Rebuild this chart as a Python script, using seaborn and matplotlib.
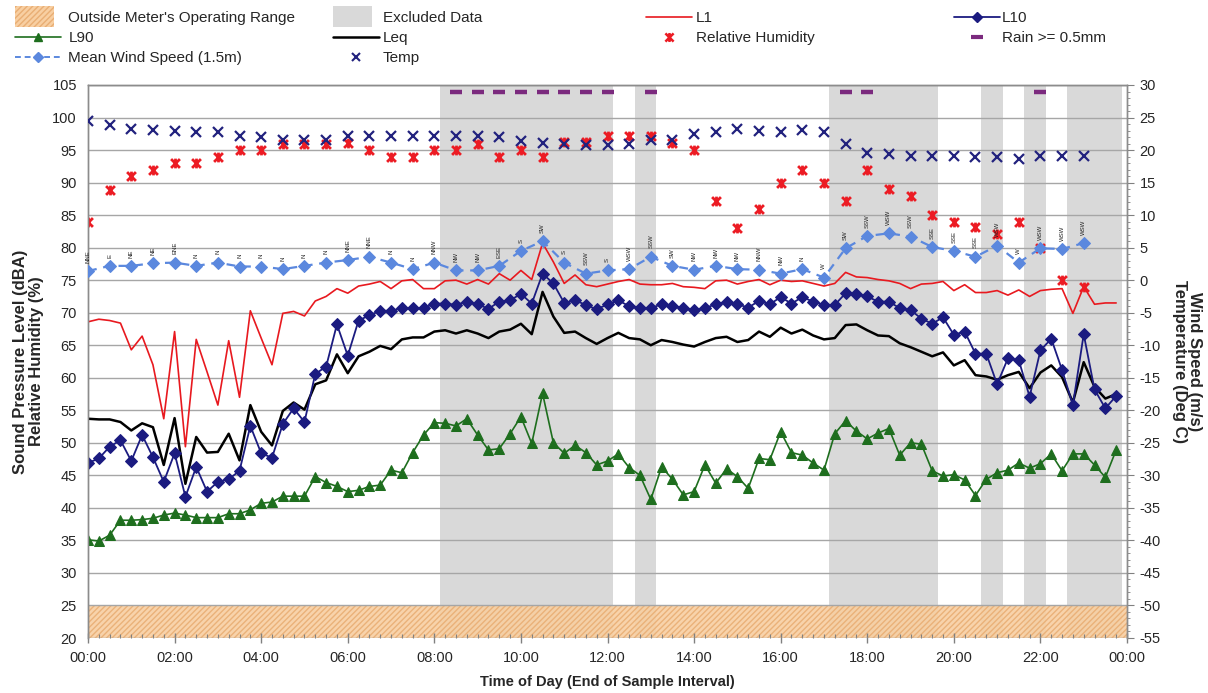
import numpy as np
import matplotlib
matplotlib.use("Agg")
import matplotlib.pyplot as plt
from matplotlib.lines import Line2D
from matplotlib.patches import Patch, Rectangle
from matplotlib.path import Path
from matplotlib.legend_handler import HandlerPatch
from matplotlib.ticker import MultipleLocator
import seaborn as sns

# ---- noise levels, 15-minute samples (time of day in hours) ----
noise_hours = np.arange(96) * 0.25

L1 = [68.6, 69.0, 68.8, 68.4, 64.3, 66.4, 62.0, 53.7, 67.1, 49.4, 65.9, 60.9, 55.8, 65.7, 57.0, 70.3,
      66.1, 62.0, 69.9, 70.2, 69.5, 71.8, 72.5, 73.7, 73.0, 74.1, 74.4, 74.8, 73.7, 74.9, 75.1, 73.7,
      73.7, 74.9, 75.0, 74.4, 75.1, 74.4, 76.0, 75.0, 76.5, 75.1, 80.7, 77.8, 74.5, 75.8, 74.3, 74.0,
      74.4, 74.8, 75.1, 74.4, 74.3, 74.3, 74.5, 74.0, 73.9, 73.7, 74.9, 75.0, 74.4, 74.8, 75.1, 74.3,
      75.0, 74.8, 74.9, 74.5, 74.1, 74.5, 76.2, 75.5, 75.4, 75.1, 74.9, 74.5, 73.7, 74.4, 74.5, 74.8,
      73.4, 74.3, 73.1, 73.1, 73.4, 72.7, 73.5, 72.5, 73.4, 73.6, 73.7, 69.9, 74.0, 71.3, 71.5, 71.5]

L10 = [46.9, 47.6, 49.4, 50.4, 47.2, 51.2, 47.8, 44.0, 48.4, 41.7, 46.3, 42.5, 44.0, 44.4, 45.7, 52.6,
       48.4, 47.7, 52.9, 55.3, 53.2, 60.6, 61.7, 68.2, 63.4, 68.8, 69.6, 70.3, 70.3, 70.7, 70.7, 70.7,
       71.4, 71.4, 71.2, 71.7, 71.3, 70.6, 71.7, 71.9, 72.9, 71.4, 76.0, 74.5, 71.5, 71.9, 71.2, 70.5,
       71.3, 71.9, 71.0, 70.8, 70.7, 71.3, 71.0, 70.8, 70.4, 70.7, 71.3, 71.7, 71.3, 70.8, 71.8, 71.3,
       72.4, 71.4, 72.4, 71.7, 71.2, 71.2, 73.0, 72.9, 72.5, 71.7, 71.7, 70.7, 70.4, 69.1, 68.3, 69.3,
       66.6, 67.1, 63.7, 63.7, 59.0, 63.0, 62.7, 57.1, 64.2, 66.0, 61.2, 55.8, 66.7, 58.2, 55.3, 57.2]

LEQ = [53.7, 53.6, 53.6, 53.2, 51.9, 53.0, 52.4, 46.6, 53.8, 43.7, 50.9, 48.5, 48.6, 51.4, 47.3, 55.8,
       51.7, 49.6, 54.9, 56.2, 55.1, 59.0, 59.6, 63.6, 60.7, 63.3, 64.0, 64.9, 64.4, 65.9, 66.2, 66.2,
       67.1, 67.3, 66.8, 67.3, 66.8, 66.1, 67.1, 67.4, 68.3, 66.7, 73.2, 69.4, 66.9, 67.1, 66.1, 65.2,
       66.1, 66.9, 66.1, 65.9, 65.0, 65.8, 65.5, 65.1, 64.8, 65.5, 66.1, 66.3, 65.5, 65.8, 67.1, 66.3,
       67.7, 66.8, 67.4, 66.5, 65.9, 66.1, 68.1, 68.2, 67.3, 66.5, 66.4, 65.3, 64.7, 64.0, 63.3, 63.9,
       61.9, 62.7, 60.4, 60.2, 59.7, 60.4, 60.9, 58.4, 60.8, 61.9, 60.1, 56.2, 62.4, 58.6, 56.8, 57.5]

L90 = [35.1, 34.9, 35.8, 38.1, 38.1, 38.2, 38.4, 38.9, 39.2, 38.9, 38.5, 38.5, 38.5, 39.1, 39.1, 39.7,
       40.7, 40.9, 41.8, 41.8, 41.8, 44.8, 43.9, 43.3, 42.5, 42.7, 43.3, 43.5, 45.8, 45.4, 48.5, 51.2,
       53.1, 53.0, 52.6, 53.7, 51.2, 48.9, 49.1, 51.4, 54.0, 49.9, 57.6, 50.0, 48.4, 49.6, 48.5, 46.6,
       47.2, 48.3, 46.2, 45.0, 41.3, 46.3, 44.4, 42.0, 42.5, 46.6, 43.8, 46.0, 44.8, 43.0, 47.6, 47.4,
       51.7, 48.5, 48.1, 46.9, 45.8, 51.4, 53.4, 51.8, 50.6, 51.5, 52.2, 48.1, 50.0, 49.8, 45.7, 44.9,
       45.1, 44.3, 41.9, 44.4, 45.4, 45.8, 46.9, 46.1, 46.8, 48.3, 45.7, 48.3, 48.3, 46.6, 44.7, 48.9]

# ---- weather, 30-minute samples ----
weather_hours = np.arange(47) * 0.5

wind_speed = [1.4, 2.2, 2.2, 2.6, 2.7, 2.2, 2.7, 2.1, 2.1, 1.7, 2.2, 2.7, 3.1, 3.6, 2.7, 1.7, 2.7,
              1.5, 1.5, 2.2, 4.5, 6.0, 2.7, 1.0, 1.5, 1.7, 3.6, 2.2, 1.6, 2.2, 1.7, 1.6, 1.0, 1.7, 0.4,
              4.9, 6.8, 7.2, 6.7, 5.1, 4.5, 3.6, 5.3, 2.7, 4.9, 4.8, 5.7]

wind_dir = ["NNE", "E", "NE", "NE", "ENE", "N", "N", "N", "N", "N", "N", "N", "NNE", "NNE", "N", "N", "NNW",
            "NW", "NW", "ESE", "S", "SW", "S", "SSW", "S", "WSW", "SSW", "SW", "NW", "NW", "NW", "NNW", "NW",
            "N", "W", "SW", "SSW", "WSW", "SSW", "SSE", "SSE", "SSE", "WSW", "W", "WSW", "WSW", "WSW"]

temperature = [24.4, 23.9, 23.3, 23.1, 23.0, 22.8, 22.7, 22.1, 22.0, 21.5, 21.5, 21.5, 22.1, 22.2, 22.2,
               22.2, 22.2, 22.1, 22.1, 22.0, 21.4, 21.1, 21.0, 20.8, 20.8, 21.0, 21.5, 21.5, 22.5, 22.8,
               23.2, 23.0, 22.7, 23.1, 22.8, 21.0, 19.6, 19.4, 19.1, 19.1, 19.1, 19.0, 19.0, 18.7, 19.1,
               19.1, 19.1]

humidity = [84.0, 88.9, 91.0, 91.9, 93.0, 93.0, 94.0, 95.0, 95.0, 96.0, 96.0, 96.0, 96.1, 95.0, 94.0,
            94.0, 95.0, 95.0, 96.0, 94.0, 95.0, 94.0, 96.3, 96.3, 97.2, 97.2, 97.2, 96.1, 95.0, 87.1,
            83.0, 86.0, 90.0, 92.0, 90.0, 87.1, 92.0, 89.0, 87.9, 85.0, 84.0, 83.1, 82.1, 84.0, 80.0,
            75.0, 74.0]

rain_hours = [8.5, 9.0, 9.5, 10.0, 10.5, 11.0, 11.5, 12.0, 13.0, 17.5, 18.0, 22.0]
rain_level = [29] * len(rain_hours)

excluded_periods = [(8.125, 12.125), (12.625, 13.125), (17.125, 19.625),
                    (20.625, 21.125), (21.625, 22.125), (22.625, 23.875)]
meter_floor = (20, 25)

x_ticks = [0, 2, 4, 6, 8, 10, 12, 14, 16, 18, 20, 22, 24]
x_tick_labels = ["00:00", "02:00", "04:00", "06:00", "08:00", "10:00", "12:00",
                 "14:00", "16:00", "18:00", "20:00", "22:00", "00:00"]

# ---- styling ----
sns.set_theme(style="white")
plt.rcParams["font.family"] = ["Liberation Sans", "DejaVu Sans"]
plt.rcParams["axes.unicode_minus"] = False

C_L1 = "#E8191F"
C_L10 = "#1B1B80"
C_L90 = "#1E6E1E"
C_LEQ = "#000000"
C_WIND = "#5B88DE"
C_TEMP = "#22227E"
C_RH = "#EC1C24"
C_RAIN = "#7B2A7E"
C_EXCL = "#D9D9D9"
C_RANGE = "#F8CFA2"
C_RANGE_HATCH = "#E9AE74"
C_GRID = "#A6A6A6"

# star marker: a cross with a vertical stroke through it
STAR = Path([(-1, -1), (1, 1), (-1, 1), (1, -1), (0, -1.1), (0, 1.1)],
            [Path.MOVETO, Path.LINETO, Path.MOVETO, Path.LINETO, Path.MOVETO, Path.LINETO])

fig = plt.figure(figsize=(12.08, 6.93), dpi=100)
ax = fig.add_axes([88 / 1208, 1 - 638 / 693, (1127 - 88) / 1208, (638 - 85) / 693])
ax2 = ax.twinx()

ax.set_xlim(0, 24)
ax.set_ylim(20, 105)
ax2.set_ylim(-55, 30)

# shaded periods and meter range
for start, end in excluded_periods:
    ax.axvspan(start, end, color=C_EXCL, lw=0, zorder=0.5)
ax.axhspan(*meter_floor, facecolor=C_RANGE, edgecolor=C_RANGE_HATCH, hatch="//////",
           lw=0, zorder=0.6, alpha=0.9)

ax.set_axisbelow("line")
ax.yaxis.grid(True, color=C_GRID, lw=1)
ax.xaxis.grid(False)

# noise series (left axis)
sns.lineplot(x=noise_hours, y=L1, ax=ax, color=C_L1, lw=1.2, zorder=3)
sns.lineplot(x=noise_hours, y=L10, ax=ax, color=C_L10, lw=1.3, marker="D", markersize=6,
             markeredgecolor=C_L10, markerfacecolor=C_L10, zorder=4)
sns.lineplot(x=noise_hours, y=LEQ, ax=ax, color=C_LEQ, lw=1.8, zorder=3.5)
sns.lineplot(x=noise_hours, y=L90, ax=ax, color=C_L90, lw=1.2, marker="^", markersize=6.5,
             markeredgecolor=C_L90, markerfacecolor=C_L90, zorder=4)
sns.lineplot(x=weather_hours, y=humidity, ax=ax, linestyle="none", marker=STAR,
             markersize=7, markeredgewidth=2.0, color=C_RH, markeredgecolor=C_RH, zorder=5)

# weather series (right axis)
sns.lineplot(x=weather_hours, y=wind_speed, ax=ax2, color=C_WIND, lw=1.6, linestyle=(0, (4, 3)),
             marker="D", markersize=6.5, markeredgecolor=C_WIND, markerfacecolor=C_WIND, zorder=4)
sns.lineplot(x=weather_hours, y=temperature, ax=ax2, linestyle="none", marker="x",
             markersize=7, markeredgewidth=1.6, color=C_TEMP, markeredgecolor=C_TEMP, zorder=5)
sns.lineplot(x=rain_hours, y=rain_level, ax=ax2, linestyle="none", marker="_",
             markersize=9, markeredgewidth=3.2, color=C_RAIN, markeredgecolor=C_RAIN, zorder=5)

for h, ws, d in zip(weather_hours, wind_speed, wind_dir):
    ax2.annotate(d, (h, ws), xytext=(0, 6), textcoords="offset points", rotation=90,
                 ha="center", va="bottom", fontsize=4.3, color="#222222")

# axes, ticks, labels
ax.set_xticks(x_ticks)
ax.set_xticklabels(x_tick_labels)
ax.xaxis.set_minor_locator(MultipleLocator(0.25))
ax.yaxis.set_major_locator(MultipleLocator(5))
ax2.yaxis.set_major_locator(MultipleLocator(5))
ax2.yaxis.set_minor_locator(MultipleLocator(1))

ax.tick_params(axis="x", which="major", direction="inout", length=7, width=1, color="#808080",
               labelsize=10.5, pad=6, bottom=True)
ax.tick_params(axis="x", which="minor", direction="in", length=3, width=0.8, color="#808080", bottom=True)
ax.tick_params(axis="y", which="major", length=0, labelsize=10.5, pad=8, left=True)
ax2.tick_params(axis="y", which="major", direction="out", length=5, width=0.8, color="#808080",
                labelsize=10.5, pad=4, right=True)
ax2.tick_params(axis="y", which="minor", direction="out", length=2.5, width=0.6, color="#808080", right=True)

for a in (ax, ax2):
    for side in ("left", "right", "top", "bottom"):
        a.spines[side].set_color("#8C8C8C")
        a.spines[side].set_linewidth(1)
ax.spines["bottom"].set_visible(False)
ax2.spines["bottom"].set_visible(False)

ax.set_xlabel("Time of Day (End of Sample Interval)", fontsize=10.5, fontweight="bold", labelpad=7)
ax.set_ylabel("Sound Pressure Level (dBA)\nRelative Humidity (%)", fontsize=12,
              fontweight="bold", labelpad=6, linespacing=1.05)
ax2.set_ylabel("Wind Speed (m/s)\nTemperature (Deg C)", fontsize=12, fontweight="bold",
               rotation=270, labelpad=30, linespacing=1.05)


# legend laid out in four columns across the top
class ShortPatchHandler(HandlerPatch):
    """Draws legend patches narrower and taller than the line handles."""

    def __init__(self, frac_w=0.85, frac_h=1.9, **kw):
        super().__init__(**kw)
        self.frac_w = frac_w
        self.frac_h = frac_h

    def create_artists(self, legend, orig_handle, xdescent, ydescent, width, height,
                       fontsize, trans):
        w = width * self.frac_w
        h = height * self.frac_h
        p = Rectangle((-xdescent, -ydescent + (height - h) / 2), w, h,
                      facecolor=orig_handle.get_facecolor(), edgecolor=orig_handle.get_edgecolor(),
                      hatch=orig_handle.get_hatch(), lw=0)
        p.set_transform(trans)
        return [p]


h_range = Patch(facecolor=C_RANGE, edgecolor=C_RANGE_HATCH, hatch="//////", lw=0)
h_excl = Patch(facecolor=C_EXCL, edgecolor=C_EXCL)
h_l1 = Line2D([], [], color=C_L1, lw=1.2)
h_l10 = Line2D([], [], color=C_L10, lw=1.3, marker="D", markersize=5)
h_l90 = Line2D([], [], color=C_L90, lw=1.2, marker="^", markersize=6)
h_leq = Line2D([], [], color=C_LEQ, lw=1.8)
h_rh = Line2D([], [], ls="none", color=C_RH, marker=STAR, markersize=6.5, markeredgewidth=1.8)
h_rain = Line2D([], [], ls="none", color=C_RAIN, marker="_", markersize=8, markeredgewidth=3)
h_wind = Line2D([], [], color=C_WIND, lw=1.4, ls=(0, (3, 2)), marker="D", markersize=5)
h_temp = Line2D([], [], ls="none", color=C_TEMP, marker="x", markersize=6, markeredgewidth=1.5)

columns = [
    (15, [h_range, h_l90, h_wind], ["Outside Meter's Operating Range", "L90", "Mean Wind Speed (1.5m)"], 0.5),
    (333, [h_excl, h_leq, h_temp], ["Excluded Data", "Leq", "Temp"], 0.25),
    (646, [h_l1, h_rh], ["L1", "Relative Humidity"], 0.25),
    (954, [h_l10, h_rain], ["L10", "Rain >= 0.5mm"], 0.15),
]
for x0, handles, labels, pad in columns:
    fig.legend(handles, labels, loc="upper left", bbox_to_anchor=(x0 / 1208, 1 - 11 / 693),
               frameon=False, fontsize=11, borderpad=0, borderaxespad=0, handlelength=3.0,
               handletextpad=pad, labelspacing=0.4,
               handler_map={Patch: ShortPatchHandler()})

fig.savefig("out.png", dpi=100)
